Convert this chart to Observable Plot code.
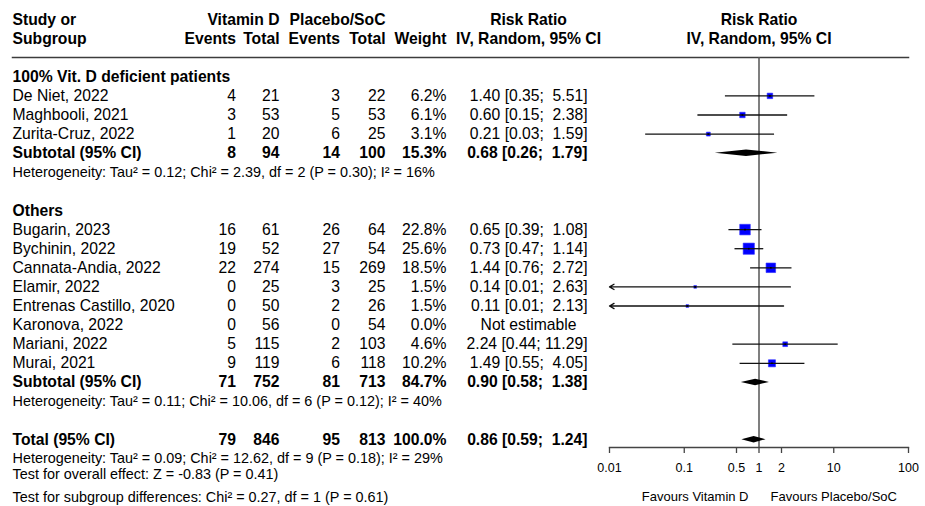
<!DOCTYPE html>
<html>
<head>
<meta charset="utf-8">
<script src="https://cdn.jsdelivr.net/npm/d3@7"></script>
<script src="https://cdn.jsdelivr.net/npm/@observablehq/plot@0.6"></script>
<style>
  html, body { margin: 0; padding: 0; background: #fff; }
</style>
</head>
<body>
<div id="chart"></div>
<script>
// ---------------- DATA ----------------
const groupLabels = ["100% Vit. D deficient patients", "Others"];

const studyNames = [
  "De Niet, 2022", "Maghbooli, 2021", "Zurita-Cruz, 2022",
  "Bugarin, 2023", "Bychinin, 2022", "Cannata-Andia, 2022", "Elamir, 2022",
  "Entrenas Castillo, 2020", "Karonova, 2022", "Mariani, 2022", "Murai, 2021"
];
const studyGroup    = [0, 0, 0, 1, 1, 1, 1, 1, 1, 1, 1];
const eventsVitD    = [4, 3, 1, 16, 19, 22, 0, 0, 0, 5, 9];
const totalVitD     = [21, 53, 20, 61, 52, 274, 25, 50, 56, 115, 119];
const eventsPlacebo = [3, 5, 6, 26, 27, 15, 3, 2, 0, 2, 6];
const totalPlacebo  = [22, 53, 25, 64, 54, 269, 25, 26, 54, 103, 118];
const weightPct     = [6.2, 6.1, 3.1, 22.8, 25.6, 18.5, 1.5, 1.5, 0.0, 4.6, 10.2];
const riskRatio     = [1.40, 0.60, 0.21, 0.65, 0.73, 1.44, 0.14, 0.11, null, 2.24, 1.49];
const ciLower       = [0.35, 0.15, 0.03, 0.39, 0.47, 0.76, 0.01, 0.01, null, 0.44, 0.55];
const ciUpper       = [5.51, 2.38, 1.59, 1.08, 1.14, 2.72, 2.63, 2.13, null, 11.29, 4.05];

const summaryLabels   = ["Subtotal (95% CI)", "Subtotal (95% CI)", "Total (95% CI)"];
const sumEventsVitD   = [8, 71, 79];
const sumTotalVitD    = [94, 752, 846];
const sumEventsPlac   = [14, 81, 95];
const sumTotalPlac    = [100, 713, 813];
const sumWeightPct    = [15.3, 84.7, 100.0];
const sumRiskRatio    = [0.68, 0.90, 0.86];
const sumLower        = [0.26, 0.58, 0.59];
const sumUpper        = [1.79, 1.38, 1.24];

const heterogeneity = [
  "Heterogeneity: Tau\u00b2 = 0.12; Chi\u00b2 = 2.39, df = 2 (P = 0.30); I\u00b2 = 16%",
  "Heterogeneity: Tau\u00b2 = 0.11; Chi\u00b2 = 10.06, df = 6 (P = 0.12); I\u00b2 = 40%",
  "Heterogeneity: Tau\u00b2 = 0.09; Chi\u00b2 = 12.62, df = 9 (P = 0.18); I\u00b2 = 29%"
];
const footnotes = [
  "Test for overall effect: Z = -0.83 (P = 0.41)",
  "Test for subgroup differences: Chi\u00b2 = 0.27, df = 1 (P = 0.61)"
];
const axisTicks = [0.01, 0.1, 0.5, 1, 2, 10, 100];
const axisTickLabels = ["0.01", "0.1", "0.5", "1", "2", "10", "100"];
const favoursLabels = ["Favours Vitamin D", "Favours Placebo/SoC"];
const headerTop = ["Study or", "Vitamin D", "Placebo/SoC", "Risk Ratio", "Risk Ratio"];
const headerBottom = ["Subgroup", "Events", "Total", "Events", "Total", "Weight",
                      "IV, Random, 95% CI", "IV, Random, 95% CI"];
const notEstimable = "Not estimable";

// ---------------- LAYOUT ----------------
const W = 925, H = 506;
const M = {top: 57, right: 17, bottom: 59, left: 12};
const xRange = [609, 908];
const rowPx = 19.1, firstRowPx = 19, lastRow = 25;
const colX = {name: 12, evD: 235.5, totD: 279, evP: 339.5, totP: 385, weight: 446, ciEnd: 587, ciMid: 528};
const FONT = "'Liberation Sans', Arial, Helvetica, sans-serif";
const FS = 15.7, FS_SMALL = 14.4, FS_AXIS = 12.5, FS_FAV = 13;
const DH = 0.17; // diamond half-height in row units
const TICK = 6, TICK_LABEL_DY = 24.5;
const NB = "\u00a0";

// ---------------- ROWS ----------------
const fmtCI = (rr, lo, hi) =>
  `${rr.toFixed(2)} [${lo.toFixed(2)};${NB}${hi.toFixed(2).padStart(5, NB)}]`;
const fmtW = (w) => `${w.toFixed(1)}%`;

const studyRows = [], summaryRows = [], labelRows = [], hetRows = [];
let r = 3;
const summaryRow = (i) => ({
  row: r++, name: summaryLabels[i],
  evD: String(sumEventsVitD[i]), totD: String(sumTotalVitD[i]),
  evP: String(sumEventsPlac[i]), totP: String(sumTotalPlac[i]),
  wt: fmtW(sumWeightPct[i]),
  rr: sumRiskRatio[i], lo: sumLower[i], hi: sumUpper[i],
  ci: fmtCI(sumRiskRatio[i], sumLower[i], sumUpper[i])
});
groupLabels.forEach((g, gi) => {
  labelRows.push({row: r++, text: g});
  studyNames.forEach((name, i) => {
    if (studyGroup[i] !== gi) return;
    studyRows.push({
      row: r++, name,
      evD: String(eventsVitD[i]), totD: String(totalVitD[i]),
      evP: String(eventsPlacebo[i]), totP: String(totalPlacebo[i]),
      w: weightPct[i], wt: fmtW(weightPct[i]),
      rr: riskRatio[i], lo: ciLower[i], hi: ciUpper[i],
      ci: riskRatio[i] == null ? null : fmtCI(riskRatio[i], ciLower[i], ciUpper[i])
    });
  });
  summaryRows.push(summaryRow(gi));
  hetRows.push({row: r++, text: heterogeneity[gi]});
  r++;
});
summaryRows.push(summaryRow(2));
hetRows.push({row: r, text: heterogeneity[2]});
const footRows = [{row: r + 0.8, text: footnotes[0]}, {row: r + 2, text: footnotes[1]}];
const favRow = r + 2;

const estStudies = studyRows.filter(d => d.rr != null);
const lineCI = estStudies.filter(d => d.lo > 0.01);
const arrowCI = estStudies.filter(d => d.lo <= 0.01);
const notEst = studyRows.filter(d => d.rr == null).map(d => ({row: d.row, text: notEstimable}));

const diamonds = summaryRows.flatMap((s, i) => [
  {id: i, y: s.row - DH, x1: s.rr, x2: s.rr},
  {id: i, y: s.row, x1: s.lo, x2: s.hi},
  {id: i, y: s.row + DH, x1: s.rr, x2: s.rr}
]);

const tickData = axisTicks.map((v, i) => ({v, label: axisTickLabels[i]}));

// ---------------- HELPERS ----------------
function col(data, text, key, anchor, extra = {}) {
  return Plot.text(data, {
    y: "row", text, frameAnchor: "left", textAnchor: anchor,
    dx: colX[key] - M.left, fontSize: FS, ...extra
  });
}
const bold = {fontWeight: "bold"};
const row0 = [{row: 0}], row1 = [{row: 1}];
const frameH = H - M.top - M.bottom;

// ---------------- PLOT ----------------
const chart = Plot.plot({
  width: W, height: H,
  marginTop: M.top, marginRight: M.right, marginBottom: M.bottom, marginLeft: M.left,
  style: {fontFamily: FONT, fontSize: FS + "px", color: "#000", background: "#fff", overflow: "visible"},
  x: {type: "log", domain: [0.01, 100], range: xRange, axis: null},
  y: {domain: [0, lastRow], range: [firstRowPx, firstRowPx + rowPx * lastRow], axis: null},
  r: {type: "sqrt", domain: [0, 25.6], range: [0, 11.2 / Math.sqrt(Math.PI)]},
  marks: [
    // header rule and null line
    Plot.frame({anchor: "top", stroke: "#3c3c3c", strokeWidth: 1.5}),
    Plot.ruleX([1], {stroke: "#555", strokeWidth: 1.5}),
    // axis: baseline, ticks, labels
    Plot.frame({anchor: "bottom", insetLeft: xRange[0] - M.left, stroke: "#444", strokeWidth: 1.3}),
    Plot.ruleX(tickData, {x: "v", insetTop: frameH, insetBottom: -TICK, stroke: "#444", strokeWidth: 1.3}),
    Plot.text(tickData, {x: "v", text: "label", frameAnchor: "bottom", dy: TICK_LABEL_DY, fontSize: FS_AXIS}),
    // study squares
    Plot.dot(estStudies, {x: "rr", y: "row", r: "w", symbol: "square", fill: "#0000ff", stroke: "#2a2aff", strokeWidth: 0.6}),
    // CIs
    Plot.link(lineCI, {x1: "lo", x2: "hi", y1: "row", y2: "row", stroke: "#111", strokeWidth: 1.3}),
    Plot.arrow(arrowCI, {x1: "hi", x2: "lo", y1: "row", y2: "row", stroke: "#111", strokeWidth: 1.3, headLength: 6, bend: 0}),
    Plot.dot(estStudies, {x: "rr", y: "row", r: 0.9, symbol: "square", fill: "#000"}),
    // diamonds
    Plot.areaX(diamonds, {y: "y", x1: "x1", x2: "x2", z: "id", fill: "#000", curve: "linear"}),

    // header
    col(row0, () => headerTop[0], "name", "start", bold),
    col(row0, () => headerTop[1], "totD", "end", bold),
    col(row0, () => headerTop[2], "totP", "end", bold),
    col(row0, () => headerTop[3], "ciMid", "middle", bold),
    Plot.text(row0, {x: () => 1, y: "row", text: () => headerTop[4], fontSize: FS, ...bold}),
    col(row1, () => headerBottom[0], "name", "start", bold),
    col(row1, () => headerBottom[1], "evD", "end", bold),
    col(row1, () => headerBottom[2], "totD", "end", bold),
    col(row1, () => headerBottom[3], "evP", "end", bold),
    col(row1, () => headerBottom[4], "totP", "end", bold),
    col(row1, () => headerBottom[5], "weight", "end", bold),
    col(row1, () => headerBottom[6], "ciMid", "middle", bold),
    Plot.text(row1, {x: () => 1, y: "row", text: () => headerBottom[7], fontSize: FS, ...bold}),

    // group labels
    col(labelRows, "text", "name", "start", bold),

    // studies
    col(studyRows, "name", "name", "start"),
    col(studyRows, "evD", "evD", "end"),
    col(studyRows, "totD", "totD", "end"),
    col(studyRows, "evP", "evP", "end"),
    col(studyRows, "totP", "totP", "end"),
    col(studyRows, "wt", "weight", "end"),
    col(estStudies, "ci", "ciEnd", "end"),
    col(notEst, "text", "ciMid", "middle"),

    // summaries
    col(summaryRows, "name", "name", "start", bold),
    col(summaryRows, "evD", "evD", "end", bold),
    col(summaryRows, "totD", "totD", "end", bold),
    col(summaryRows, "evP", "evP", "end", bold),
    col(summaryRows, "totP", "totP", "end", bold),
    col(summaryRows, "wt", "weight", "end", bold),
    col(summaryRows, "ci", "ciEnd", "end", bold),

    // heterogeneity and footnotes
    col(hetRows, "text", "name", "start", {fontSize: FS_SMALL}),
    col(footRows, "text", "name", "start", {fontSize: FS_SMALL}),

    // favours labels
    Plot.text([{row: favRow}], {x: () => 1, y: "row", text: () => favoursLabels[0], textAnchor: "end", dx: -10.5, fontSize: FS_FAV}),
    Plot.text([{row: favRow}], {x: () => 1, y: "row", text: () => favoursLabels[1], textAnchor: "start", dx: 11.5, fontSize: FS_FAV})
  ]
});
document.getElementById("chart").appendChild(chart);
</script>
</body>
</html>
